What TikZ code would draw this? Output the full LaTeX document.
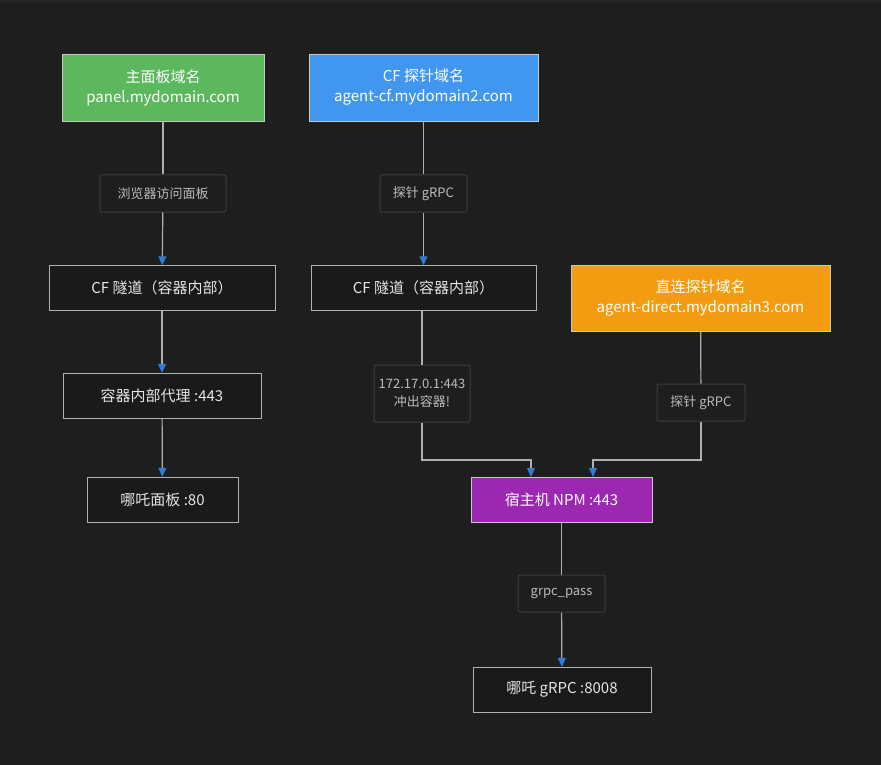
\documentclass[tikz,border=0pt]{standalone}
\usepackage{fontspec}
\setmainfont{Noto Sans CJK SC}
\usetikzlibrary{arrows.meta}
\definecolor{bgdark}{HTML}{1E1E1E}
\definecolor{boxfill}{HTML}{1A1A1A}
\definecolor{edgegray}{HTML}{B0B0B0}
\definecolor{tipblue}{HTML}{2F7BD6}
\definecolor{lblborder}{HTML}{3C3C3C}
\definecolor{lbltext}{HTML}{BBBBBB}
\definecolor{panelgreen}{HTML}{5CB85C}
\definecolor{agentblue}{HTML}{4197F0}
\definecolor{directorange}{HTML}{F39C12}
\definecolor{npmpurple}{HTML}{9C27B0}
\begin{document}
\begin{tikzpicture}[x=1pt,y=-1pt,font=\fontsize{15}{20}\selectfont,
	box/.style={draw=edgegray,fill=boxfill,text=white!90!black,minimum height=45,align=center,inner sep=0},
	colbox/.style={draw=edgegray!70,text=white,minimum height=67,align=center,inner sep=0},
	lbl/.style={draw=lblborder,line width=1pt,rounded corners=2pt,fill=bgdark,text=lbltext,font=\fontsize{13}{18}\selectfont,minimum height=37,align=center,inner sep=0},
	link/.style={draw=edgegray,line width=1.2pt},
	arr/.style={-{Triangle[width=8pt,length=9pt,color=tipblue]}}]
	\fill[bgdark] (0,0) rectangle (881,765);
	\fill[black!85] (0,0) rectangle (881,3);
	\node[colbox,fill=panelgreen,minimum width=202] (panel) at (163,87.5) {主面板域名\\panel.mydomain.com};
	\node[colbox,fill=agentblue,minimum width=229] (agentcf) at (423.5,87.5) {CF 探针域名\\agent-cf.mydomain2.com};
	\node[colbox,fill=directorange,minimum width=259,minimum height=66] (direct) at (700.5,298) {直连探针域名\\agent-direct.mydomain3.com};
	\node[box,minimum width=226] (tunnelA) at (162,288) {CF 隧道（容器内部）};
	\node[box,minimum width=225] (tunnelB) at (423.5,288) {CF 隧道（容器内部）};
	\node[box,minimum width=198] (proxy) at (162,395.5) {容器内部代理 :443};
	\node[box,minimum width=151] (nzpanel) at (162.5,499.5) {哪吒面板 :80};
	\node[box,fill=npmpurple,draw=edgegray!70,text=white,minimum width=181] (npm) at (561.5,499.5) {宿主机 NPM :443};
	\node[box,minimum width=178] (nzgrpc) at (562,689.5) {哪吒 gRPC :8008};
	\node[lbl,minimum width=126] (lblA) at (163,193.5) {浏览器访问面板};
	\node[lbl,minimum width=87] (lblB) at (423.5,193.5) {探针 gRPC};
	\node[lbl,minimum width=96,minimum height=57] (lblC) at (422,393.5) {172.17.0.1:443\\冲出容器!};
	\node[lbl,minimum width=88] (lblD) at (701,402.5) {探针 gRPC};
	\node[lbl,minimum width=87] (lblE) at (561.5,593.5) {grpc\_pass};
	\coordinate (inB) at (531,477);
	\coordinate (inD) at (593,477);
	% left column
	\draw[link] (panel) -- (lblA);
	\draw[link,arr] (lblA) -- (tunnelA);
	\draw[link,arr] (tunnelA) -- (proxy);
	\draw[link,arr] (proxy) -- (nzpanel);
	% cf agent
	\draw[link] (agentcf) -- (lblB);
	\draw[link,arr] (lblB) -- (tunnelB);
	\draw[link] (tunnelB.south -| lblC) -- (lblC);
	\draw[link,arr] (lblC.south) |- (531,460) -- (inB);
	% direct agent
	\draw[link] (direct) -- (lblD);
	\draw[link,arr] (lblD.south) |- (593,460) -- (inD);
	% npm
	\draw[link] (npm) -- (lblE);
	\draw[link,arr] (lblE) -- (nzgrpc);
\end{tikzpicture}
\end{document}
